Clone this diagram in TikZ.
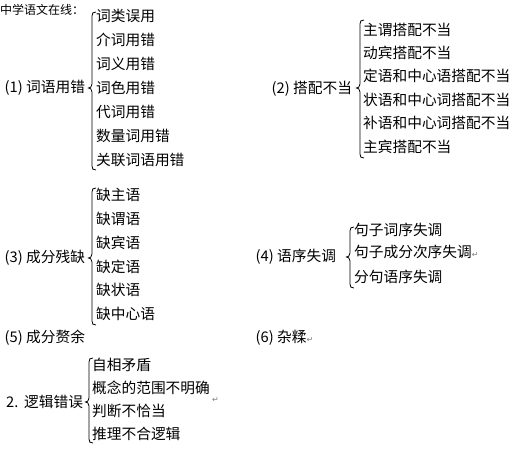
\documentclass[tikz,border=0pt]{standalone}
\usepackage{fontspec}
\newfontfamily\cjk{Noto Sans CJK SC}
\newfontfamily\dv{DejaVu Sans}
\newcommand\cbrace[4]{%
\draw[bracestyle] (#1+4,#2) .. controls (#1+1,#2) and (#1,#2+1) .. (#1,#2+4) -- (#1,#3-4) .. controls (#1,#3-1) and (#1-2,#3) .. (#1-3.5,#3) .. controls (#1-2,#3) and (#1,#3+1) .. (#1,#3+4) -- (#1,#4-4) .. controls (#1,#4-1) and (#1+1,#4) .. (#1+4,#4);}
\newcommand\pmark{{\dv\color{gray}\fontsize{8}{8}\selectfont ↵}}
\newcommand\num[1]{\makebox[25pt][c]{(#1)}}
\begin{document}
\begin{tikzpicture}[x=1pt,y=-1pt,
  txt/.style={anchor=west,inner sep=0pt,font=\cjk\fontsize{14.7}{14.7}\selectfont},
  small/.style={anchor=west,inner sep=0pt,font=\cjk\fontsize{12}{12}\selectfont},
  bracestyle/.style={draw=black,line width=0.8pt}]
\useasboundingbox[fill=white] (0,0) rectangle (516,449);
\node[small] (title) at (0,10) {中学语文在线：};
% group 1
\node[txt] (g1) at (1,88) {\num{1}词语用错};
\cbrace{92}{12}{88}{170}
\node[txt] (g1a) at (96,16) {词类误用};
\node[txt] (g1b) at (96,40) {介词用错};
\node[txt] (g1c) at (96,64) {词义用错};
\node[txt] (g1d) at (96,88) {词色用错};
\node[txt] (g1e) at (96,112) {代词用错};
\node[txt] (g1f) at (96,136) {数量词用错};
\node[txt] (g1g) at (96,160) {关联词语用错};
% group 2
\node[txt] (g2) at (268,89) {\num{2}搭配不当};
\cbrace{360}{20}{88}{158}
\node[txt] (g2a) at (363,30) {主谓搭配不当};
\node[txt] (g2b) at (363,53) {动宾搭配不当};
\node[txt] (g2c) at (363,76) {定语和中心语搭配不当};
\node[txt] (g2d) at (363,100) {状语和中心词搭配不当};
\node[txt] (g2e) at (363,123) {补语和中心词搭配不当};
\node[txt] (g2f) at (363,147) {主宾搭配不当};
% group 3
\node[txt] (g3) at (1,258) {\num{3}成分残缺};
\cbrace{92}{188}{258}{325}
\node[txt] (g3a) at (96,195) {缺主语};
\node[txt] (g3b) at (96,219) {缺谓语};
\node[txt] (g3c) at (96,243) {缺宾语};
\node[txt] (g3d) at (96,267) {缺定语};
\node[txt] (g3e) at (96,290) {缺状语};
\node[txt] (g3f) at (96,314) {缺中心语};
% group 4
\node[txt] (g4) at (252,257) {\num{4}语序失调};
\cbrace{350}{227}{257}{288}
\node[txt] (g4a) at (354,230) {句子词序失调};
\node[txt] (g4b) at (354,252) {句子成分次序失调\pmark};
\node[txt] (g4c) at (354,277) {分句语序失调};
% 5, 6
\node[txt] (g5) at (1,338) {\num{5}成分赘余};
\node[txt] (g6) at (252,338) {\num{6}杂糅\pmark};
% logic
\node[txt] (gl) at (6,402) {\makebox[18pt][l]{2.}逻辑错误};
\cbrace{89}{358}{402}{443}
\node[txt] (gla) at (92,365) {自相矛盾};
\node[txt] (glb) at (92,388) {概念的范围不明确};
\node[anchor=west,inner sep=0pt] (glm) at (212,400) {\pmark};
\node[txt] (glc) at (92,411) {判断不恰当};
\node[txt] (gld) at (92,434) {推理不合逻辑};
\end{tikzpicture}
\end{document}
